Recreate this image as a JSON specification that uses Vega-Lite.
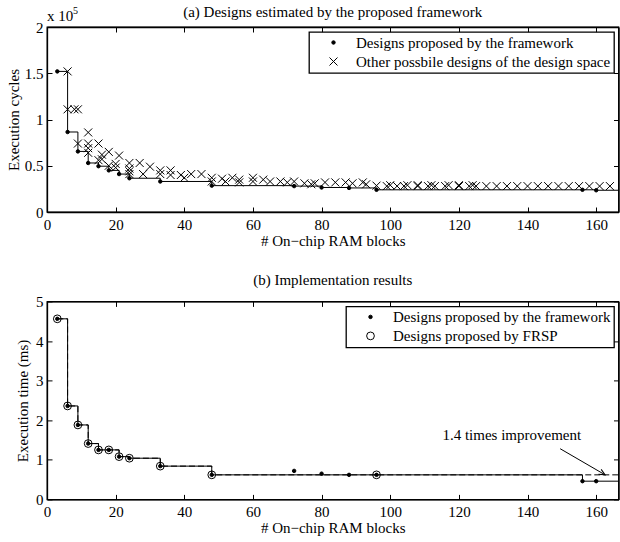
{
  "$schema": "https://vega.github.io/schema/vega-lite/v6.json",
  "padding": {"left": 5, "top": 3, "right": 0, "bottom": 0},
  "background": "white",
  "spacing": 89.4,
  "bounds": "flush",
  "resolve": {
    "scale": {"shape": "independent", "size": "independent", "fill": "independent", "stroke": "independent", "x": "independent", "y": "independent"},
    "legend": {"shape": "independent", "size": "independent", "fill": "independent", "stroke": "independent"}
  },
  "config": {
    "font": "Liberation Serif",
    "view": {"stroke": "black", "strokeWidth": 1.3},
    "axis": {
      "domainColor": "black", "domainWidth": 1.3, "tickColor": "black", "tickSize": -5, "tickWidth": 1,
      "labelFont": "Liberation Serif", "labelFontSize": 15, "labelColor": "black", "labelPadding": 9,
      "titleFont": "Liberation Serif", "titleFontSize": 15, "titleFontWeight": "normal", "titleColor": "black",
      "grid": false, "labelOverlap": false, "labelFlush": false, "labelSeparation": 0, "tickCount": 12
    },
    "axisX": {"labelPadding": 10, "titlePadding": 1},
    "legend": {
      "labelFont": "Liberation Serif", "labelFontSize": 15, "labelColor": "black", "labelLimit": 400,
      "strokeColor": "black", "fillColor": "white", "strokeWidth": 1.3,
      "padding": 3, "symbolOffset": 14, "labelOffset": 15, "rowPadding": 3, "orient": "top-right", "offset": 5,
      "symbolStrokeColor": "black", "symbolStrokeWidth": 1
    },
    "title": {"font": "Liberation Serif", "fontWeight": "normal", "color": "black", "fontSize": 15, "offset": 6, "frame": "group"}
  },
  "datasets": {
    "top_line": [
      {"blocks": 3, "cycles": 152000}, {"blocks": 6, "cycles": 86500}, {"blocks": 9, "cycles": 65500}, {"blocks": 12, "cycles": 53000},
      {"blocks": 15, "cycles": 49500}, {"blocks": 18, "cycles": 45000}, {"blocks": 21, "cycles": 41000}, {"blocks": 24, "cycles": 36500},
      {"blocks": 33, "cycles": 33000}, {"blocks": 48, "cycles": 28500}, {"blocks": 72, "cycles": 28000}, {"blocks": 80, "cycles": 26500},
      {"blocks": 88, "cycles": 26000}, {"blocks": 96, "cycles": 24000}, {"blocks": 156, "cycles": 24000}, {"blocks": 160, "cycles": 23500},
      {"blocks": 167, "cycles": 23500}
    ],
    "top_points": [
      {"design": "Other possbile designs of the design space", "blocks": 6, "cycles": 152000},
      {"design": "Other possbile designs of the design space", "blocks": 6, "cycles": 111000},
      {"design": "Other possbile designs of the design space", "blocks": 8, "cycles": 111000},
      {"design": "Other possbile designs of the design space", "blocks": 9, "cycles": 111000},
      {"design": "Other possbile designs of the design space", "blocks": 9, "cycles": 74000},
      {"design": "Other possbile designs of the design space", "blocks": 12, "cycles": 86000},
      {"design": "Other possbile designs of the design space", "blocks": 12, "cycles": 74000},
      {"design": "Other possbile designs of the design space", "blocks": 12, "cycles": 69000},
      {"design": "Other possbile designs of the design space", "blocks": 12, "cycles": 64000},
      {"design": "Other possbile designs of the design space", "blocks": 15, "cycles": 74000},
      {"design": "Other possbile designs of the design space", "blocks": 15, "cycles": 56000},
      {"design": "Other possbile designs of the design space", "blocks": 16, "cycles": 62000},
      {"design": "Other possbile designs of the design space", "blocks": 16, "cycles": 57000},
      {"design": "Other possbile designs of the design space", "blocks": 18, "cycles": 65000},
      {"design": "Other possbile designs of the design space", "blocks": 18, "cycles": 50000},
      {"design": "Other possbile designs of the design space", "blocks": 20, "cycles": 52000},
      {"design": "Other possbile designs of the design space", "blocks": 20, "cycles": 48000},
      {"design": "Other possbile designs of the design space", "blocks": 21, "cycles": 61000},
      {"design": "Other possbile designs of the design space", "blocks": 24, "cycles": 53000},
      {"design": "Other possbile designs of the design space", "blocks": 24, "cycles": 47000},
      {"design": "Other possbile designs of the design space", "blocks": 24, "cycles": 44000},
      {"design": "Other possbile designs of the design space", "blocks": 24, "cycles": 41000},
      {"design": "Other possbile designs of the design space", "blocks": 27, "cycles": 53000},
      {"design": "Other possbile designs of the design space", "blocks": 28, "cycles": 41000},
      {"design": "Other possbile designs of the design space", "blocks": 30, "cycles": 49000},
      {"design": "Other possbile designs of the design space", "blocks": 33, "cycles": 45000},
      {"design": "Other possbile designs of the design space", "blocks": 33, "cycles": 41000},
      {"design": "Other possbile designs of the design space", "blocks": 36, "cycles": 45000},
      {"design": "Other possbile designs of the design space", "blocks": 36, "cycles": 40000},
      {"design": "Other possbile designs of the design space", "blocks": 39, "cycles": 40000},
      {"design": "Other possbile designs of the design space", "blocks": 40, "cycles": 37000},
      {"design": "Other possbile designs of the design space", "blocks": 42, "cycles": 41000},
      {"design": "Other possbile designs of the design space", "blocks": 45, "cycles": 41000},
      {"design": "Other possbile designs of the design space", "blocks": 48, "cycles": 37000},
      {"design": "Other possbile designs of the design space", "blocks": 48, "cycles": 33000},
      {"design": "Other possbile designs of the design space", "blocks": 51, "cycles": 36000},
      {"design": "Other possbile designs of the design space", "blocks": 52, "cycles": 33000},
      {"design": "Other possbile designs of the design space", "blocks": 54, "cycles": 37000},
      {"design": "Other possbile designs of the design space", "blocks": 56, "cycles": 35000},
      {"design": "Other possbile designs of the design space", "blocks": 56, "cycles": 32000},
      {"design": "Other possbile designs of the design space", "blocks": 60, "cycles": 37000},
      {"design": "Other possbile designs of the design space", "blocks": 60, "cycles": 33000},
      {"design": "Other possbile designs of the design space", "blocks": 63, "cycles": 35000},
      {"design": "Other possbile designs of the design space", "blocks": 65, "cycles": 33000},
      {"design": "Other possbile designs of the design space", "blocks": 68, "cycles": 33000},
      {"design": "Other possbile designs of the design space", "blocks": 70, "cycles": 32000},
      {"design": "Other possbile designs of the design space", "blocks": 72, "cycles": 33000},
      {"design": "Other possbile designs of the design space", "blocks": 75, "cycles": 31000},
      {"design": "Other possbile designs of the design space", "blocks": 77, "cycles": 30000},
      {"design": "Other possbile designs of the design space", "blocks": 78, "cycles": 31000},
      {"design": "Other possbile designs of the design space", "blocks": 81, "cycles": 32000},
      {"design": "Other possbile designs of the design space", "blocks": 84, "cycles": 32000},
      {"design": "Other possbile designs of the design space", "blocks": 87, "cycles": 32000},
      {"design": "Other possbile designs of the design space", "blocks": 89, "cycles": 31000},
      {"design": "Other possbile designs of the design space", "blocks": 92, "cycles": 32000},
      {"design": "Other possbile designs of the design space", "blocks": 93, "cycles": 30000},
      {"design": "Other possbile designs of the design space", "blocks": 96, "cycles": 28500},
      {"design": "Other possbile designs of the design space", "blocks": 99, "cycles": 28000},
      {"design": "Other possbile designs of the design space", "blocks": 100, "cycles": 29000},
      {"design": "Other possbile designs of the design space", "blocks": 102, "cycles": 28000},
      {"design": "Other possbile designs of the design space", "blocks": 104, "cycles": 28000},
      {"design": "Other possbile designs of the design space", "blocks": 105, "cycles": 29000},
      {"design": "Other possbile designs of the design space", "blocks": 108, "cycles": 28000},
      {"design": "Other possbile designs of the design space", "blocks": 108, "cycles": 29000},
      {"design": "Other possbile designs of the design space", "blocks": 111, "cycles": 28000},
      {"design": "Other possbile designs of the design space", "blocks": 112, "cycles": 29000},
      {"design": "Other possbile designs of the design space", "blocks": 113, "cycles": 28000},
      {"design": "Other possbile designs of the design space", "blocks": 116, "cycles": 28000},
      {"design": "Other possbile designs of the design space", "blocks": 117, "cycles": 29000},
      {"design": "Other possbile designs of the design space", "blocks": 120, "cycles": 28000},
      {"design": "Other possbile designs of the design space", "blocks": 120, "cycles": 29000},
      {"design": "Other possbile designs of the design space", "blocks": 123, "cycles": 28000},
      {"design": "Other possbile designs of the design space", "blocks": 124, "cycles": 29000},
      {"design": "Other possbile designs of the design space", "blocks": 125, "cycles": 28000},
      {"design": "Other possbile designs of the design space", "blocks": 128, "cycles": 28000},
      {"design": "Other possbile designs of the design space", "blocks": 131, "cycles": 28000},
      {"design": "Other possbile designs of the design space", "blocks": 134, "cycles": 28000},
      {"design": "Other possbile designs of the design space", "blocks": 137, "cycles": 28000},
      {"design": "Other possbile designs of the design space", "blocks": 140, "cycles": 28000},
      {"design": "Other possbile designs of the design space", "blocks": 143, "cycles": 28000},
      {"design": "Other possbile designs of the design space", "blocks": 146, "cycles": 28000},
      {"design": "Other possbile designs of the design space", "blocks": 149, "cycles": 28000},
      {"design": "Other possbile designs of the design space", "blocks": 152, "cycles": 28000},
      {"design": "Other possbile designs of the design space", "blocks": 155, "cycles": 28000},
      {"design": "Other possbile designs of the design space", "blocks": 158, "cycles": 28000},
      {"design": "Other possbile designs of the design space", "blocks": 161, "cycles": 28000},
      {"design": "Other possbile designs of the design space", "blocks": 164, "cycles": 28000},
      {"design": "Designs proposed by the framework", "blocks": 3, "cycles": 152000},
      {"design": "Designs proposed by the framework", "blocks": 6, "cycles": 86500},
      {"design": "Designs proposed by the framework", "blocks": 9, "cycles": 65500},
      {"design": "Designs proposed by the framework", "blocks": 12, "cycles": 53000},
      {"design": "Designs proposed by the framework", "blocks": 15, "cycles": 49500},
      {"design": "Designs proposed by the framework", "blocks": 18, "cycles": 45000},
      {"design": "Designs proposed by the framework", "blocks": 21, "cycles": 41000},
      {"design": "Designs proposed by the framework", "blocks": 24, "cycles": 36500},
      {"design": "Designs proposed by the framework", "blocks": 33, "cycles": 33000},
      {"design": "Designs proposed by the framework", "blocks": 48, "cycles": 28500},
      {"design": "Designs proposed by the framework", "blocks": 72, "cycles": 28000},
      {"design": "Designs proposed by the framework", "blocks": 80, "cycles": 26500},
      {"design": "Designs proposed by the framework", "blocks": 88, "cycles": 26000},
      {"design": "Designs proposed by the framework", "blocks": 96, "cycles": 24000},
      {"design": "Designs proposed by the framework", "blocks": 156, "cycles": 24000},
      {"design": "Designs proposed by the framework", "blocks": 160, "cycles": 23500}
    ],
    "bottom_fw_line": [
      {"blocks": 3, "ms": 4.56}, {"blocks": 6, "ms": 2.36}, {"blocks": 9, "ms": 1.88}, {"blocks": 12, "ms": 1.41},
      {"blocks": 15, "ms": 1.25}, {"blocks": 18, "ms": 1.25}, {"blocks": 21, "ms": 1.08}, {"blocks": 24, "ms": 1.04},
      {"blocks": 33, "ms": 0.84}, {"blocks": 48, "ms": 0.62}, {"blocks": 156, "ms": 0.46}, {"blocks": 160, "ms": 0.46},
      {"blocks": 167, "ms": 0.46}
    ],
    "bottom_frsp_line": [
      {"blocks": 3, "ms": 4.56}, {"blocks": 6, "ms": 2.36}, {"blocks": 9, "ms": 1.88}, {"blocks": 12, "ms": 1.41},
      {"blocks": 15, "ms": 1.25}, {"blocks": 18, "ms": 1.25}, {"blocks": 21, "ms": 1.08}, {"blocks": 24, "ms": 1.04},
      {"blocks": 33, "ms": 0.84}, {"blocks": 48, "ms": 0.62}, {"blocks": 96, "ms": 0.62}, {"blocks": 167, "ms": 0.62}
    ],
    "bottom_points": [
      {"kind": "Designs proposed by the framework", "blocks": 3, "ms": 4.56},
      {"kind": "Designs proposed by the framework", "blocks": 6, "ms": 2.36},
      {"kind": "Designs proposed by the framework", "blocks": 9, "ms": 1.88},
      {"kind": "Designs proposed by the framework", "blocks": 12, "ms": 1.41},
      {"kind": "Designs proposed by the framework", "blocks": 15, "ms": 1.25},
      {"kind": "Designs proposed by the framework", "blocks": 18, "ms": 1.25},
      {"kind": "Designs proposed by the framework", "blocks": 21, "ms": 1.08},
      {"kind": "Designs proposed by the framework", "blocks": 24, "ms": 1.04},
      {"kind": "Designs proposed by the framework", "blocks": 33, "ms": 0.84},
      {"kind": "Designs proposed by the framework", "blocks": 48, "ms": 0.62},
      {"kind": "Designs proposed by the framework", "blocks": 72, "ms": 0.72},
      {"kind": "Designs proposed by the framework", "blocks": 80, "ms": 0.65},
      {"kind": "Designs proposed by the framework", "blocks": 88, "ms": 0.62},
      {"kind": "Designs proposed by the framework", "blocks": 96, "ms": 0.62},
      {"kind": "Designs proposed by the framework", "blocks": 156, "ms": 0.46},
      {"kind": "Designs proposed by the framework", "blocks": 160, "ms": 0.46},
      {"kind": "Designs proposed by FRSP", "blocks": 3, "ms": 4.56},
      {"kind": "Designs proposed by FRSP", "blocks": 6, "ms": 2.36},
      {"kind": "Designs proposed by FRSP", "blocks": 9, "ms": 1.88},
      {"kind": "Designs proposed by FRSP", "blocks": 12, "ms": 1.41},
      {"kind": "Designs proposed by FRSP", "blocks": 15, "ms": 1.25},
      {"kind": "Designs proposed by FRSP", "blocks": 18, "ms": 1.25},
      {"kind": "Designs proposed by FRSP", "blocks": 21, "ms": 1.08},
      {"kind": "Designs proposed by FRSP", "blocks": 24, "ms": 1.04},
      {"kind": "Designs proposed by FRSP", "blocks": 33, "ms": 0.84},
      {"kind": "Designs proposed by FRSP", "blocks": 48, "ms": 0.62},
      {"kind": "Designs proposed by FRSP", "blocks": 96, "ms": 0.62}
    ],
    "notes": [
      {"label": "1.4 times improvement"}
    ]
  },
  "vconcat": [
    {
      "width": 571.5,
      "height": 185,
      "title": {"text": "(a) Designs estimated by the proposed framework", "offset": -13.5},
      "layer": [
        {
          "data": {"name": "top_line"},
          "mark": {"type": "line", "interpolate": "step-after", "color": "black", "strokeWidth": 1, "clip": true},
          "encoding": {
            "x": {"field": "blocks", "type": "quantitative",
                  "scale": {"domain": [0, 166.5], "nice": false, "zero": false},
                  "axis": {"orient": "bottom", "title": "# On\u2212chip RAM blocks", "values": [0, 20, 40, 60, 80, 100, 120, 140, 160], "format": "d"}},
            "y": {"field": "cycles", "type": "quantitative",
                  "scale": {"domain": [0, 200000], "nice": false},
                  "axis": {"orient": "left", "title": "Execution cycles", "values": [0, 50000, 100000, 150000, 200000], "labelExpr": "datum.value / 100000", "titlePadding": 3}}
          }
        },
        {
          "data": {"name": "top_points"},
          "mark": {"type": "point", "filled": false, "stroke": "black", "strokeWidth": 1, "opacity": 1, "clip": true},
          "encoding": {
            "x": {"field": "blocks", "type": "quantitative",
                  "axis": {"orient": "top", "labels": false, "title": null, "values": [0, 20, 40, 60, 80, 100, 120, 140, 160]}},
            "y": {"field": "cycles", "type": "quantitative",
                  "axis": {"orient": "right", "labels": false, "title": null, "values": [0, 50000, 100000, 150000, 200000]}},
            "shape": {"field": "design", "type": "nominal",
                      "scale": {"domain": ["Designs proposed by the framework", "Other possbile designs of the design space"], "range": ["circle", "M-1,-1L1,1M-1,1L1,-1"]},
                      "legend": {"title": null}},
            "fill": {"field": "design", "type": "nominal",
                     "scale": {"domain": ["Designs proposed by the framework", "Other possbile designs of the design space"], "range": ["black", "transparent"]},
                     "legend": {"title": null}},
            "stroke": {"field": "design", "type": "nominal",
                     "scale": {"domain": ["Designs proposed by the framework", "Other possbile designs of the design space"], "range": ["black", "black"]},
                     "legend": {"title": null}},
            "size": {"field": "design", "type": "nominal",
                     "scale": {"domain": ["Designs proposed by the framework", "Other possbile designs of the design space"], "range": [12, 64]},
                     "legend": {"title": null}}
          }
        },
        {
          "data": {"name": "notes"},
          "mark": {"type": "text", "text": "x 10", "align": "left", "baseline": "alphabetic", "dy": -6, "fontSize": 15, "color": "black"},
          "encoding": {"x": {"datum": 0, "type": "quantitative", "axis": null}, "y": {"datum": 200000, "type": "quantitative", "axis": null}}
        },
        {
          "data": {"name": "notes"},
          "mark": {"type": "text", "text": "5", "align": "left", "baseline": "alphabetic", "dx": 26, "dy": -13, "fontSize": 10, "color": "black"},
          "encoding": {"x": {"datum": 0, "type": "quantitative", "axis": null}, "y": {"datum": 200000, "type": "quantitative", "axis": null}}
        }
      ]
    },
    {
      "width": 571.5,
      "height": 198,
      "title": {"text": "(b) Implementation results"},
      "layer": [
        {
          "data": {"name": "bottom_fw_line"},
          "mark": {"type": "line", "interpolate": "step-after", "color": "black", "strokeWidth": 1, "clip": true},
          "encoding": {
            "x": {"field": "blocks", "type": "quantitative",
                  "scale": {"domain": [0, 166.5], "nice": false, "zero": false},
                  "axis": {"orient": "bottom", "title": "# On\u2212chip RAM blocks", "values": [0, 20, 40, 60, 80, 100, 120, 140, 160], "format": "d"}},
            "y": {"field": "ms", "type": "quantitative",
                  "scale": {"domain": [0, 5], "nice": false},
                  "axis": {"orient": "left", "title": "Execution time (ms)", "values": [0, 1, 2, 3, 4, 5], "format": "d", "titlePadding": 5}}
          }
        },
        {
          "data": {"name": "bottom_frsp_line"},
          "mark": {"type": "line", "interpolate": "step-after", "color": "black", "strokeWidth": 1, "strokeDash": [6, 3], "clip": true},
          "encoding": {
            "x": {"field": "blocks", "type": "quantitative",
                  "axis": {"orient": "top", "labels": false, "title": null, "values": [0, 20, 40, 60, 80, 100, 120, 140, 160]}},
            "y": {"field": "ms", "type": "quantitative",
                  "axis": {"orient": "right", "labels": false, "title": null, "values": [0, 1, 2, 3, 4, 5]}}
          }
        },
        {
          "data": {"name": "bottom_points"},
          "mark": {"type": "point", "filled": false, "stroke": "black", "strokeWidth": 1, "opacity": 1},
          "encoding": {
            "x": {"field": "blocks", "type": "quantitative", "axis": null},
            "y": {"field": "ms", "type": "quantitative", "axis": null},
            "fill": {"field": "kind", "type": "nominal",
                     "scale": {"domain": ["Designs proposed by the framework", "Designs proposed by FRSP"], "range": ["black", "transparent"]},
                     "legend": {"title": null}},
            "stroke": {"field": "kind", "type": "nominal",
                     "scale": {"domain": ["Designs proposed by the framework", "Designs proposed by FRSP"], "range": ["black", "black"]},
                     "legend": {"title": null}},
            "size": {"field": "kind", "type": "nominal",
                     "scale": {"domain": ["Designs proposed by the framework", "Designs proposed by FRSP"], "range": [12, 60]},
                     "legend": {"title": null}}
          }
        },
        {
          "data": {"name": "notes"},
          "mark": {"type": "text", "fontSize": 15, "color": "black", "align": "center", "baseline": "middle"},
          "encoding": {"x": {"datum": 135.4, "type": "quantitative", "axis": null}, "y": {"datum": 1.63, "type": "quantitative", "axis": null}, "text": {"field": "label"}}
        },
        {
          "data": {"name": "notes"},
          "mark": {"type": "rule", "color": "black", "strokeWidth": 1},
          "encoding": {"x": {"datum": 149.5, "type": "quantitative", "axis": null}, "y": {"datum": 1.28, "type": "quantitative", "axis": null}, "x2": {"datum": 162.4}, "y2": {"datum": 0.63}}
        },
        {
          "data": {"name": "notes"},
          "mark": {"type": "point", "shape": "M-1,-0.45L0,0L-1,0.45", "size": 150, "angle": 30, "filled": false, "stroke": "black", "strokeWidth": 1, "opacity": 1},
          "encoding": {"x": {"datum": 162.6, "type": "quantitative", "axis": null}, "y": {"datum": 0.62, "type": "quantitative", "axis": null}}
        }
      ]
    }
  ]
}
